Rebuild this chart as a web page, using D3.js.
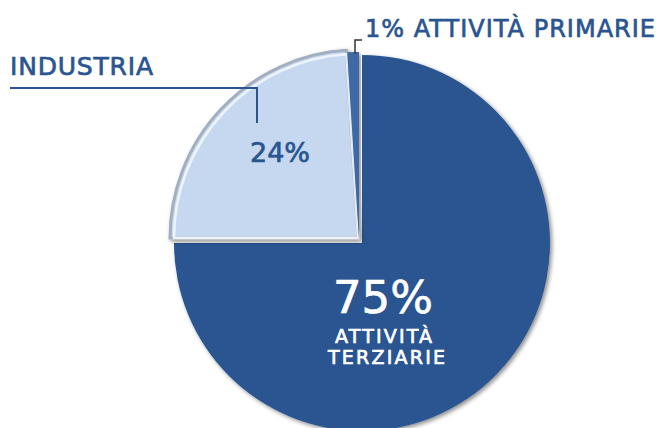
<!DOCTYPE html>
<meta charset="utf-8">
<title>Settori</title>
<script src="https://d3js.org/d3.v7.min.js"></script>
<style>
  body { margin: 0; background: #fff; }
  text { font-family: "DejaVu Sans", sans-serif; text-transform: uppercase; }
  text.lbl { stroke-width: 0.7px; }
</style>
<div id="chart"></div>
<script>
// data
var categories = ["Attività terziarie", "Industria", "Attività primarie"];
var values = [75, 24, 1];
var colors = ["#2a5591", "#c6d8ef", "#3d6aa6"];
// small explode offsets per slice (the picture is slightly 3d)
var offsets = [[0, 0], [-4, -5], [-3, -3]];

var W = 659, H = 428;
var cx = 362, cy = 243, r = 188;

var svg = d3.select("#chart").append("svg")
    .attr("width", W).attr("height", H);

var defs = svg.append("defs");
var f = defs.append("filter").attr("id", "shadow")
    .attr("x", "-10%").attr("y", "-10%").attr("width", "120%").attr("height", "120%");
f.append("feDropShadow").attr("dx", 2).attr("dy", 2).attr("stdDeviation", 2)
    .attr("flood-color", "#000").attr("flood-opacity", 0.45);

var pie = d3.pie().sort(null).value(function(d) { return d; });
var arcs = pie(values);
var arc = d3.arc().innerRadius(0).outerRadius(r);
var arcInner = d3.arc().innerRadius(0).outerRadius(r - 4);

var g = svg.append("g").attr("transform", "translate(" + cx + "," + cy + ")");

var slices = g.selectAll("g.slice")
  .data(arcs)
  .enter().append("g")
    .attr("class", "slice")
    .attr("transform", function(d, i) { return "translate(" + offsets[i][0] + "," + offsets[i][1] + ")"; });

slices.append("path")
    .attr("d", arc)
    .attr("fill", function(d, i) { return colors[i]; })
    .attr("stroke", function(d, i) { return i == 1 ? "#a3afbe" : "none"; })
    .attr("stroke-width", 3)
    .attr("filter", "url(#shadow)");

// bevel highlight on the light slice
slices.filter(function(d, i) { return i == 1; })
  .append("path")
    .attr("d", arcInner)
    .attr("fill", "none")
    .attr("stroke", "#eef4fb")
    .attr("stroke-width", 2.5);

// labels
var blue = "#2a5591";

// industria
svg.append("text")
    .attr("class", "lbl")
    .attr("x", 10).attr("y", 75)
    .attr("fill", blue).attr("stroke", blue)
    .style("font-size", "25px")
    .attr("textLength", 143)
    .text(categories[1]);
svg.append("polyline")
    .attr("points", "10,88 257,88 257,123")
    .attr("fill", "none").attr("stroke", blue).attr("stroke-width", 2);

svg.append("text")
    .attr("class", "lbl")
    .attr("x", 280).attr("y", 162)
    .attr("text-anchor", "middle")
    .attr("fill", blue).attr("stroke", blue)
    .style("font-size", "27px")
    .text(values[1] + "%");

// attivita primarie
svg.append("text")
    .attr("class", "lbl")
    .attr("x", 365).attr("y", 37)
    .attr("fill", blue).attr("stroke", blue)
    .style("font-size", "24px")
    .attr("textLength", 290)
    .text(values[2] + "% " + categories[2]);
svg.append("polyline")
    .attr("points", "362,40 355,40 355,54")
    .attr("fill", "none").attr("stroke", "#333").attr("stroke-width", 1.5);

// attivita terziarie
svg.append("text")
    .attr("class", "lbl")
    .attr("x", 383).attr("y", 313)
    .attr("text-anchor", "middle")
    .attr("fill", "#fff").attr("stroke", "#fff")
    .style("font-size", "45px")
    .text(values[0] + "%");
svg.append("text")
    .attr("class", "lbl")
    .attr("x", 335).attr("y", 343)
    .attr("fill", "#fff").attr("stroke", "#fff")
    .style("font-size", "19px")
    .attr("textLength", 97)
    .text("Attività");
svg.append("text")
    .attr("class", "lbl")
    .attr("x", 328).attr("y", 364)
    .attr("fill", "#fff").attr("stroke", "#fff")
    .style("font-size", "19px")
    .attr("textLength", 117)
    .text("Terziarie");
</script>
